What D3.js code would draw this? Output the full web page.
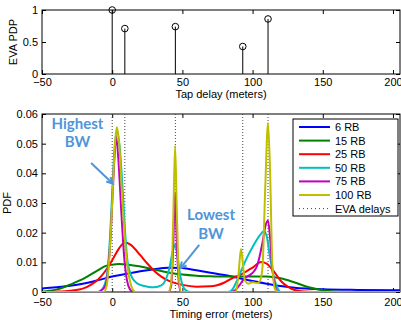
<!DOCTYPE html>
<html lang="en">
<head>
<meta charset="UTF-8">
<title>EVA PDP and timing error PDF</title>
<script src="https://cdn.jsdelivr.net/npm/d3@7"></script>
<style>
    body{ margin:0; background:#fff; }
    svg text{ font-family:"Liberation Sans", Arial, sans-serif; font-size:11px; fill:#000; }
    .note{ font-family:Lato, "Open Sans", sans-serif; font-weight:bold; font-size:15px; fill:#4f95d8; }
</style>
</head>
<body>
<svg id="fig" width="401" height="320"></svg>
<script>
    // EVA tap delays (meters) and relative powers
    let tapDelays = [0, 9, 45, 93, 111];
    let tapPower = [1.0, 0.71, 0.74, 0.43, 0.86];

    let xTicks = [-50, 0, 50, 100, 150, 200];
    let pdpTicks = [0, 0.5, 1];
    let pdfTicks = [0, 0.01, 0.02, 0.03, 0.04, 0.05, 0.06];

    let seriesNames = ["6 RB", "15 RB", "25 RB", "50 RB", "75 RB", "100 RB"];
    let seriesColors = ["#0000ff", "#008000", "#ff0000", "#00bfbf", "#bf00bf", "#bfbf00"];

    // timing error PDFs, [meters, pdf]
    let rb6 = [[-50,0.0012],[-40,0.0016],[-30,0.0021],[-20,0.0029],[-10,0.0040],[0,0.0052],[10,0.0061],
        [20,0.0070],[30,0.0077],[40,0.0082],[50,0.0081],[60,0.0073],[70,0.0065],[80,0.0057],[90,0.0047],
        [100,0.0037],[110,0.0028],[120,0.0020],[130,0.0014],[140,0.0011],[150,0.0009],[175,0.0007],[205,0.0006]];
    let rb15 = [[-50,0.0001],[-45,0.0004],[-40,0.0008],[-35,0.0015],[-30,0.0025],[-20,0.0046],[-10,0.0074],
        [-5,0.0087],[0,0.0092],[5,0.0094],[10,0.0093],[20,0.0086],[30,0.0076],[40,0.0066],[50,0.0059],
        [60,0.0055],[70,0.0053],[80,0.0052],[90,0.0052],[100,0.0052],[110,0.0052],[120,0.0046],[130,0.0032],
        [140,0.0016],[150,0.0006],[160,0.0001],[170,0],[205,0]];
    let rb25 = [[-50,0],[-40,0.0001],[-30,0.0004],[-20,0.0013],[-15,0.0025],[-10,0.0042],[-5,0.0070],
        [0,0.0107],[5,0.0148],[9,0.0167],[13,0.0160],[20,0.0124],[25,0.0096],[30,0.0071],[35,0.0052],
        [40,0.0038],[50,0.0024],[60,0.0018],[70,0.0019],[80,0.0032],[85,0.0045],[90,0.0055],[95,0.0068],
        [100,0.0082],[106,0.0101],[110,0.0096],[115,0.0070],[120,0.0038],[125,0.0018],[130,0.0007],
        [140,0.0001],[150,0],[205,0]];
    let rb50 = [[-50,0],[-10,0],[-7,0.001],[-4,0.005],[-2,0.015],[0,0.033],[2,0.050],[3.5,0.054],
        [5.5,0.048],[7.5,0.034],[9.5,0.018],[11,0.010],[14,0.005],[17,0.0032],[20,0.0024],[25,0.0018],
        [30,0.0016],[35,0.0022],[38,0.004],[41,0.0085],[43,0.0135],[44.8,0.0159],[46.5,0.012],[48.5,0.0055],
        [50.5,0.0018],[53,0.0004],[56,0],[82,0],[85,0.0005],[89,0.004],[93,0.0085],[97,0.0125],[101,0.016],
        [105,0.019],[108,0.0205],[110,0.019],[112,0.013],[114,0.0075],[116,0.0035],[118,0.001],[120,0],[205,0]];
    let rb75 = [[-50,0],[-10,0],[-8,0.0005],[-5,0.002],[-3,0.007],[-1,0.020],[1,0.040],[2.8,0.0523],
        [4.5,0.044],[6.5,0.027],[8.5,0.012],[10.5,0.004],[12.5,0.001],[15,0],[40,0],[42,0.002],[43.5,0.016],
        [44.8,0.0335],[46,0.017],[47.5,0.003],[49,0],[85,0],[88,0.0008],[91,0.0025],[94,0.0045],[98,0.0057],
        [101,0.0070],[103,0.0086],[105,0.012],[107,0.0165],[109,0.022],[111,0.0241],[112.5,0.018],
        [114,0.008],[116,0.002],[118,0],[205,0]];
    let rb100 = [[-50,0],[-6,0],[-4,0.002],[-2,0.012],[0,0.030],[2,0.050],[3.3,0.0555],[5,0.050],
        [7,0.033],[9,0.018],[11,0.008],[13,0.003],[15,0.0005],[17,0],[40,0],[42,0.003],[43.5,0.025],
        [44.8,0.0493],[46,0.028],[47.5,0.005],[49,0],[88,0],[90,0.006],[91.7,0.0145],[93,0.010],[94.5,0.004],
        [97,0.0028],[100,0.0033],[103,0.0030],[105,0.0035],[107,0.008],[109,0.035],[111,0.0570],
        [112.5,0.040],[114,0.010],[116,0.001],[118,0],[205,0]];
    let allSeries = [rb6, rb15, rb25, rb50, rb75, rb100];

    // annotation arrows, [tail, tip] in data units
    let highArrow = [[-15, 0.0435], [0.5, 0.0365]];
    let lowArrow = [[62, 0.0159], [48.5, 0.0080]];

    let svg = d3.select("#fig");
    let left = 42, right = 400;

    let x = d3.scaleLinear().domain([-50, 205]).range([left, right]);
    let yTop = d3.scaleLinear().domain([0, 1]).range([74, 10]);
    let yBot = d3.scaleLinear().domain([0, 0.06]).range([292, 114]);

    function drawAxes(yScale, yTickVals, yFmt, labelPad){
        let y0 = yScale.range()[0], y1 = yScale.range()[1];
        let g = svg.append("g");
        g.append("g").attr("transform", `translate(0,${y0})`)
            .call(d3.axisBottom(x).tickValues(xTicks).tickSizeInner(-4).tickSizeOuter(0).tickPadding(labelPad).tickFormat(d3.format("d")));
        g.append("g").attr("transform", `translate(0,${y1})`)
            .call(d3.axisTop(x).tickValues(xTicks).tickSizeInner(-4).tickSizeOuter(0).tickFormat(""));
        g.append("g").attr("transform", `translate(${left},0)`)
            .call(d3.axisLeft(yScale).tickValues(yTickVals).tickSizeInner(-4).tickSizeOuter(0).tickPadding(4).tickFormat(yFmt));
        g.append("g").attr("transform", `translate(${right},0)`)
            .call(d3.axisRight(yScale).tickValues(yTickVals).tickSizeInner(-4).tickSizeOuter(0).tickFormat(""));
        g.selectAll(".domain").remove();
        g.selectAll("line").attr("stroke", "#000");
        g.selectAll("text").attr("font-size", 11).attr("font-family", "Liberation Sans, Arial, sans-serif");
        g.append("rect").attr("x", left).attr("y", y1).attr("width", right - left).attr("height", y0 - y1)
            .attr("fill", "none").attr("stroke", "#000").attr("stroke-width", 1);
        return g;
    }

    // top: EVA power delay profile (stems)
    drawAxes(yTop, pdpTicks, d => d === 0 ? "0" : String(d), 4.5);
    let stems = svg.append("g");
    tapDelays.forEach(function (d, i){
        stems.append("line").attr("x1", x(d)).attr("x2", x(d))
            .attr("y1", yTop(0)).attr("y2", yTop(tapPower[i]))
            .attr("stroke", "#000").attr("stroke-width", 1);
        stems.append("circle").attr("cx", x(d)).attr("cy", yTop(tapPower[i])).attr("r", 3.3)
            .attr("fill", "none").attr("stroke", "#000").attr("stroke-width", 1);
    });
    svg.append("text").attr("x", (left + right) / 2).attr("y", 98).attr("text-anchor", "middle").text("Tap delay (meters)");
    svg.append("text").attr("transform", `translate(17,${(10 + 74) / 2}) rotate(-90)`)
        .attr("text-anchor", "middle").text("EVA PDP");

    // bottom: timing error PDFs
    drawAxes(yBot, pdfTicks, d => d === 0 ? "0" : d3.format(".2f")(d), 6);

    svg.append("defs").append("clipPath").attr("id", "plotClip")
        .append("rect").attr("x", left).attr("y", 114).attr("width", right - left).attr("height", 292 - 114);

    let plot = svg.append("g").attr("clip-path", "url(#plotClip)");
    tapDelays.forEach(function (d){
        plot.append("line").attr("x1", x(d)).attr("x2", x(d)).attr("y1", yBot(0)).attr("y2", yBot(0.06))
            .attr("stroke", "#444").attr("stroke-width", 1).attr("stroke-dasharray", "1,2");
    });

    let line = d3.line().x(d => x(d[0])).y(d => yBot(d[1])).curve(d3.curveMonotoneX);
    allSeries.forEach(function (s, i){
        plot.append("path").datum(s).attr("d", line)
            .attr("fill", "none").attr("stroke", seriesColors[i]).attr("stroke-width", 2)
            .attr("stroke-linejoin", "round");
    });

    svg.append("text").attr("x", (left + right) / 2).attr("y", 318).attr("text-anchor", "middle").text("Timing error (meters)");
    svg.append("text").attr("transform", `translate(11,${(114 + 292) / 2}) rotate(-90)`)
        .attr("text-anchor", "middle").text("PDF");

    // legend
    let lg = svg.append("g").attr("transform", "translate(293,119)");
    lg.append("rect").attr("width", 105).attr("height", 97).attr("fill", "#fff").attr("stroke", "#000");
    seriesNames.concat(["EVA delays"]).forEach(function (name, i){
        let yy = 8 + i * 13.6;
        let l = lg.append("line").attr("x1", 6).attr("x2", 37).attr("y1", yy).attr("y2", yy);
        if (i < seriesNames.length){
            l.attr("stroke", seriesColors[i]).attr("stroke-width", 2);
        } else {
            l.attr("stroke", "#444").attr("stroke-width", 1).attr("stroke-dasharray", "1,3");
        }
        lg.append("text").attr("x", 42).attr("y", yy + 4).text(name);
    });

    // annotations
    let noteColor = "#4f95d8";
    svg.append("text").attr("class", "note").attr("x", 77.5).attr("y", 128.5).attr("text-anchor", "middle").text("Highest");
    svg.append("text").attr("class", "note").attr("x", 77.5).attr("y", 147).attr("text-anchor", "middle").text("BW");
    svg.append("text").attr("class", "note").attr("x", 211).attr("y", 220).attr("text-anchor", "middle").text("Lowest");
    svg.append("text").attr("class", "note").attr("x", 211).attr("y", 238.5).attr("text-anchor", "middle").text("BW");

    function arrow(pts){
        let x0 = x(pts[0][0]), y0 = yBot(pts[0][1]), x1 = x(pts[1][0]), y1 = yBot(pts[1][1]);
        let a = Math.atan2(y1 - y0, x1 - x0), h = 7, w = 0.45;
        svg.append("line").attr("x1", x0).attr("y1", y0).attr("x2", x1).attr("y2", y1)
            .attr("stroke", noteColor).attr("stroke-width", 2);
        svg.append("path")
            .attr("d", `M${x1 - h * Math.cos(a - w)},${y1 - h * Math.sin(a - w)}L${x1},${y1}L${x1 - h * Math.cos(a + w)},${y1 - h * Math.sin(a + w)}`)
            .attr("fill", "none").attr("stroke", noteColor).attr("stroke-width", 2);
    }
    arrow(highArrow);
    arrow(lowArrow);
</script>
</body>
</html>
